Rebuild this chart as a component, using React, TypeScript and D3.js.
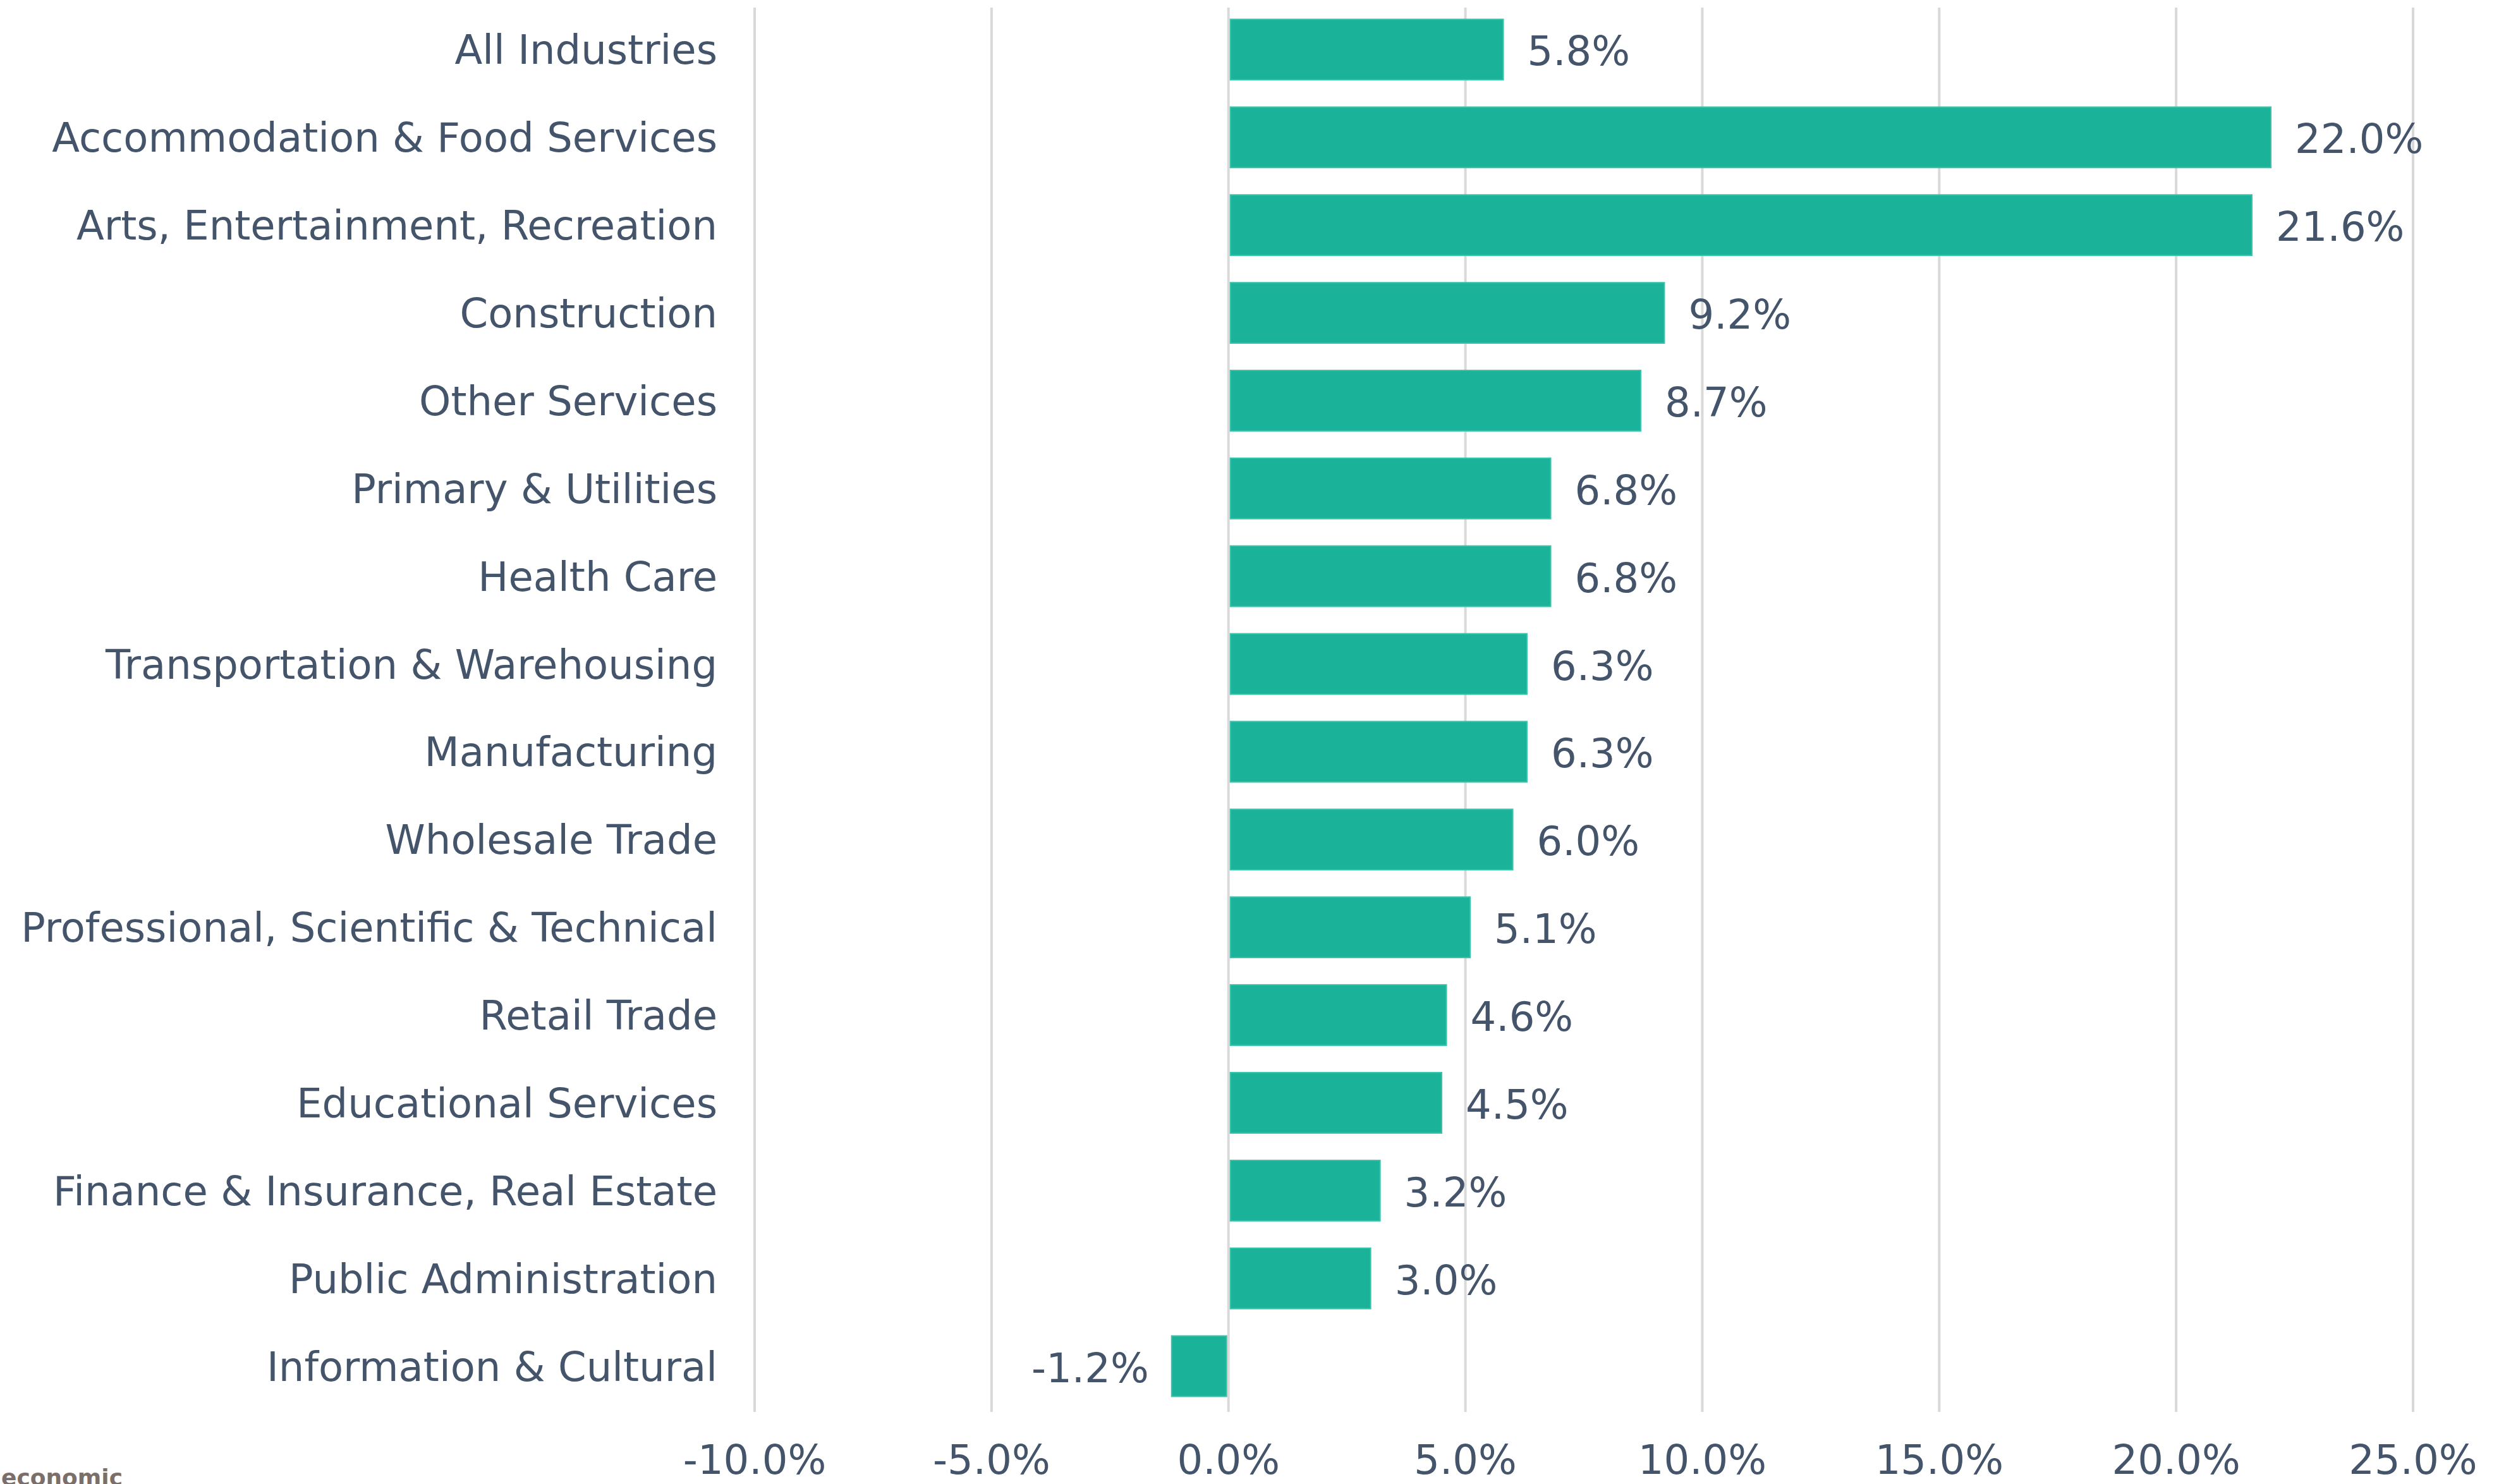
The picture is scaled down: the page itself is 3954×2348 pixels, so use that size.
import React from 'react';
import * as d3 from 'd3';

const industries = [
    'All Industries',
    'Accommodation & Food Services',
    'Arts, Entertainment, Recreation',
    'Construction',
    'Other Services',
    'Primary & Utilities',
    'Health Care',
    'Transportation & Warehousing',
    'Manufacturing',
    'Wholesale Trade',
    'Professional, Scientific & Technical',
    'Retail Trade',
    'Educational Services',
    'Finance & Insurance, Real Estate',
    'Public Administration',
    'Information & Cultural',
];

const changePct = [5.8, 22.0, 21.6, 9.2, 8.7, 6.8, 6.8, 6.3, 6.3, 6.0, 5.1, 4.6, 4.5, 3.2, 3.0, -1.2];

const xTicks = [-10, -5, 0, 5, 10, 15, 20, 25];

const W = 3954;
const H = 2348;
const TEXT = '#44546a';
const BAR = '#1ab39a';
const GRID = '#d9d9d9';
const FONT = '"DejaVu Sans", Verdana, sans-serif';

// plain hyphen for negatives, like the original
const fmt = d3.formatLocale({ decimal: '.', thousands: ',', grouping: [3], currency: ['', ''], minus: '-' }).format('.1f');

export default function App() {
    const x = d3.scaleLinear().domain([-10, 25]).range([1194, 3818]);
    const y = d3.scaleBand()
        .domain(industries)
        .range([9, 2231])
        .paddingInner(0.31)
        .paddingOuter(0.155);

    const rows = industries.map((name, i) => ({ name, value: changePct[i] }));

    return (
        <svg width={W} height={H} style={{ position: 'absolute', left: 0, top: 0, background: '#fff' }}
            fontFamily={FONT}>
            {/* vertical gridlines */}
            <g>
                {xTicks.map(t => (
                    <line key={t} x1={x(t)} x2={x(t)} y1={12} y2={2234} stroke={GRID} strokeWidth={4} />
                ))}
            </g>

            {/* bars */}
            <g>
                {rows.map(d => (
                    <rect key={d.name}
                        x={x(Math.min(0, d.value)) + (d.value >= 0 ? 3 : 0)}
                        y={y(d.name)!}
                        width={Math.abs(x(d.value) - x(0)) - 3}
                        height={y.bandwidth()}
                        fill={BAR}
                        stroke="#3cc3ab"
                        strokeWidth={2} />
                ))}
            </g>

            {/* value labels */}
            <g fontSize={64} fill={TEXT}>
                {rows.map(d => (
                    <text key={d.name}
                        x={d.value >= 0 ? x(d.value) + 38 : x(d.value) - 36}
                        y={y(d.name)! + y.bandwidth() / 2 + 25}
                        textAnchor={d.value >= 0 ? 'start' : 'end'}>
                        {fmt(d.value) + '%'}
                    </text>
                ))}
            </g>

            {/* category labels */}
            <g fontSize={64} fill={TEXT}>
                {rows.map(d => (
                    <text key={d.name} x={1135} y={y(d.name)! + y.bandwidth() / 2 + 23} textAnchor="end">
                        {d.name}
                    </text>
                ))}
            </g>

            {/* x axis tick labels */}
            <g fontSize={64} fill={TEXT}>
                {xTicks.map(t => (
                    <text key={t} x={x(t)} y={2332} textAnchor="middle">{fmt(t) + '%'}</text>
                ))}
            </g>

            <text x={2} y={2350} fontSize={36} fontWeight={600} fill="#7b6f6a">economic</text>
        </svg>
    );
}
